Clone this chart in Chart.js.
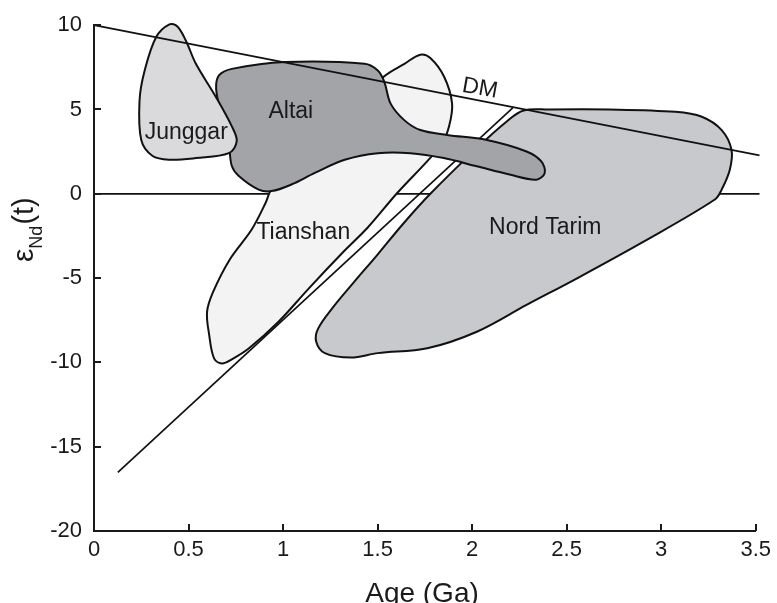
<!DOCTYPE html>
<html>
<head>
<meta charset="utf-8">
<script src="https://cdn.jsdelivr.net/npm/chart.js@4.4.0/dist/chart.umd.min.js"></script>
<style>
  body { margin: 0; background: #fff; }
</style>
</head>
<body>
<canvas id="myChart" width="777" height="603"></canvas>
<script>
// field outlines: age (Ga) and eNd(t)
const junggarAge = [0.399, 0.441, 0.486, 0.539, 0.644, 0.729, 0.755, 0.713, 0.539, 0.399, 0.310, 0.250, 0.241, 0.268, 0.329];
const junggarEps = [10.05, 9.92, 9.08, 7.71, 5.76, 4.00, 3.12, 2.41, 2.12, 2.02, 2.24, 3.19, 5.55, 7.31, 9.30];

const altaiAge = [0.661, 0.729, 1.011, 1.431, 1.501, 1.536, 1.569, 1.641, 1.726, 1.868, 2.078, 2.288, 2.366, 2.384, 2.340,
                  2.198, 2.025, 1.850, 1.674, 1.501, 1.326, 1.168, 1.044, 0.939, 0.871, 0.766, 0.729, 0.714, 0.672, 0.646];
const altaiEps = [7.02, 7.41, 7.81, 7.71, 7.31, 6.63, 5.35, 4.37, 3.78, 3.49, 3.19, 2.51, 1.92, 1.24, 0.84,
                  1.14, 1.63, 2.12, 2.41, 2.41, 2.02, 1.24, 0.55, 0.16, 0.25, 1.06, 1.65, 2.82, 4.76, 6.24];

const tianshanAge = [1.532, 1.642, 1.726, 1.779, 1.852, 1.894, 1.878, 1.842, 1.763, 1.605, 1.448, 1.317, 1.133, 0.976,
                     0.818, 0.729, 0.677, 0.635, 0.609, 0.598, 0.630, 0.719, 0.834, 0.908, 0.934, 1.081, 1.343];
const tianshanEps = [6.94, 7.71, 8.25, 8.05, 6.94, 5.35, 4.00, 3.00, 1.94, 0.06, -2.00, -3.47, -5.65, -7.59,
                     -9.18, -9.82, -10.06, -9.76, -8.35, -7.00, -5.82, -3.88, -2.12, -0.53, 0.18, 2.41, 4.76];

const tarimAge = [2.272, 2.408, 2.723, 3.075, 3.215, 3.320, 3.372, 3.363, 3.320, 3.284, 2.900, 2.550, 2.288, 2.025,
                  1.763, 1.501, 1.359, 1.221, 1.175, 1.186, 1.270, 1.375, 1.501, 1.632, 1.779, 2.025, 2.183];
const tarimEps = [4.94, 5.00, 5.00, 4.86, 4.57, 3.78, 2.61, 1.43, 0.25, -0.34, -2.88, -5.04, -6.59, -8.18,
                  -9.16, -9.45, -9.71, -9.45, -8.76, -7.98, -6.65, -5.24, -3.59, -1.82, 0.00, 2.71, 4.29];

// reference lines
const dmAge = [0, 3.52];
const dmEps = [10, 2.28];
const crustAge = [0.126, 2.215];
const crustEps = [-16.53, 5.10];
const zeroAge = [0, 3.52];
const zeroEps = [0, 0];

// field labels
const fieldNames = ['Junggar', 'Altai', 'Tianshan', 'Nord Tarim'];
const fieldAge = [0.488, 1.041, 1.107, 2.387];
const fieldEps = [3.24, 4.47, -2.71, -2.41];

const xTicks = [0, 0.5, 1, 1.5, 2, 2.5, 3, 3.5];
const xTickLabels = ['0', '0.5', '1', '1.5', '2', '2.5', '3', '3.5'];
const yTicks = [-20, -15, -10, -5, 0, 5, 10];
const yTickLabels = ['-20', '-15', '-10', '-5', '0', '5', '10'];

const FONT = '"Liberation Sans", Arial, Helvetica, sans-serif';
const INK = '#1a1a1a';

function pts(xs, ys) {
    return xs.map((v, i) => ({x: v, y: ys[i]}));
}

function field(name, xs, ys, color) {
    return {
        label: name,
        data: pts(xs, ys),
        showLine: true,
        fill: 'shape',
        backgroundColor: color,
        borderColor: '#111',
        borderWidth: 2,
        tension: 0.35,
        pointRadius: 0,
        clip: false,
        isField: true,
    };
}

function line(name, xs, ys, w) {
    return {
        label: name,
        data: pts(xs, ys),
        showLine: true,
        fill: false,
        borderColor: '#111',
        borderWidth: w,
        pointRadius: 0,
        clip: false,
    };
}

// first dataset is drawn on top
const datasets = [
    line('DM', dmAge, dmEps, 1.7),
    field('Junggar', junggarAge, junggarEps, '#dadadc'),
    field('Altai', altaiAge, altaiEps, '#a2a4a7'),
    field('Nord Tarim', tarimAge, tarimEps, '#c7c9cc'),
    field('Tianshan', tianshanAge, tianshanEps, '#f3f3f3'),
    line('crust', crustAge, crustEps, 1.7),
    line('zero', zeroAge, zeroEps, 1.7),
];

const extras = {
    id: 'extras',
    afterDatasetsUpdate(chart) {
        // close the field outlines as smooth loops
        chart.data.datasets.forEach((ds, i) => {
            if (!ds.isField) return;
            const el = chart.getDatasetMeta(i).dataset;
            el._loop = true;
            el._fullLoop = true;
            el._pointsUpdated = false;
            delete el._segments;
            delete el._path;
        });
    },
    afterDatasetsDraw(chart) {
        const ctx = chart.ctx, x = chart.scales.x, y = chart.scales.y;
        ctx.save();
        ctx.fillStyle = INK;
        ctx.font = '23px ' + FONT;
        ctx.textAlign = 'center';
        ctx.textBaseline = 'alphabetic';
        fieldNames.forEach((t, i) => {
            ctx.fillText(t, x.getPixelForValue(fieldAge[i]), y.getPixelForValue(fieldEps[i]));
        });
        // DM label along the line
        ctx.translate(x.getPixelForValue(2.041), y.getPixelForValue(6.24));
        ctx.rotate(10 * Math.PI / 180);
        ctx.textBaseline = 'middle';
        ctx.fillText('DM', 0, 0);
        ctx.restore();
    },
    afterDraw(chart) {
        const ctx = chart.ctx, x = chart.scales.x, y = chart.scales.y, a = chart.chartArea;
        ctx.save();
        // inward tick marks
        ctx.strokeStyle = INK;
        ctx.lineWidth = 2;
        xTicks.forEach(v => {
            const px = Math.round(x.getPixelForValue(v));
            ctx.beginPath();
            ctx.moveTo(px, a.bottom);
            ctx.lineTo(px, a.bottom - 7);
            ctx.stroke();
        });
        yTicks.forEach(v => {
            const py = Math.round(y.getPixelForValue(v));
            ctx.beginPath();
            ctx.moveTo(a.left, py);
            ctx.lineTo(a.left + 7, py);
            ctx.stroke();
        });
        // axis titles
        ctx.fillStyle = INK;
        ctx.font = '28px ' + FONT;
        ctx.textAlign = 'center';
        ctx.textBaseline = 'alphabetic';
        ctx.fillText('Age (Ga)', 422, 602);

        ctx.translate(33, 262);
        ctx.rotate(-Math.PI / 2);
        ctx.textAlign = 'left';
        ctx.font = '30px ' + FONT;
        ctx.fillText('\u03b5', 0, 0);
        let w = ctx.measureText('\u03b5').width;
        ctx.font = '18px ' + FONT;
        ctx.fillText('Nd', w, 9);
        w += ctx.measureText('Nd').width + 1;
        ctx.font = '29px ' + FONT;
        ctx.fillText('(t)', w, 0);
        ctx.restore();
    }
};

const ctx = document.getElementById('myChart').getContext('2d');
const myChart = new Chart(ctx, {
    type: 'scatter',
    data: { datasets: datasets },
    plugins: [extras],
    options: {
        responsive: false,
        animation: false,
        events: [],
        layout: { padding: { top: 21, right: 16, left: 0, bottom: 0 } },
        plugins: {
            legend: { display: false },
            tooltip: { enabled: false },
        },
        scales: {
            x: {
                type: 'linear',
                min: 0,
                max: 3.5,
                afterFit: s => { s.height = 72; },
                afterBuildTicks: s => { s.ticks = xTicks.map(v => ({value: v})); },
                grid: { display: false, drawTicks: false },
                border: { display: true, color: INK, width: 2 },
                ticks: {
                    padding: 6,
                    color: INK,
                    font: { family: FONT, size: 22 },
                    maxRotation: 0,
                    callback: v => xTickLabels[xTicks.indexOf(v)],
                },
            },
            y: {
                type: 'linear',
                min: -20,
                max: 10,
                afterFit: s => { s.width = 94; },
                afterBuildTicks: s => { s.ticks = yTicks.map(v => ({value: v})); },
                grid: { display: false, drawTicks: false },
                border: { display: true, color: INK, width: 2 },
                ticks: {
                    padding: 12,
                    color: INK,
                    font: { family: FONT, size: 22 },
                    callback: v => yTickLabels[yTicks.indexOf(v)],
                },
            },
        },
    },
});
</script>
</body>
</html>
